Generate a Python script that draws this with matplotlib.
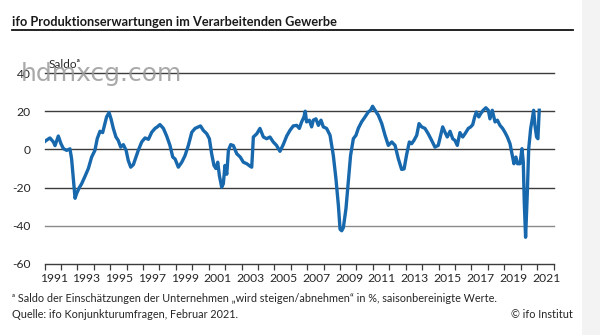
import matplotlib
matplotlib.use("Agg")
import matplotlib.pyplot as plt
from matplotlib.lines import Line2D
from matplotlib.patches import Rectangle

# ifo Produktionserwartungen, Saldo
years = [
    1991.00, 1991.10, 1991.33, 1991.54, 1991.64, 1991.84, 1992.00, 1992.15, 1992.35, 1992.55,
    1992.65, 1992.75, 1992.86, 1992.96, 1993.12, 1993.26, 1993.47, 1993.67, 1993.87, 1994.07,
    1994.21, 1994.38, 1994.54, 1994.68, 1994.78, 1994.93, 1995.05, 1995.19, 1995.35, 1995.49,
    1995.64, 1995.80, 1995.97, 1996.10, 1996.25, 1996.41, 1996.57, 1996.71, 1996.92, 1997.12,
    1997.33, 1997.53, 1997.73, 1997.87, 1998.03, 1998.24, 1998.44, 1998.64, 1998.81, 1998.95,
    1999.15, 1999.36, 1999.56, 1999.76, 1999.97, 2000.17, 2000.37, 2000.50, 2000.67, 2000.88,
    2001.04, 2001.18, 2001.32, 2001.44, 2001.55, 2001.65, 2001.79, 2001.89, 2001.99, 2002.10,
    2002.20, 2002.34, 2002.50, 2002.71, 2002.92, 2003.11, 2003.32, 2003.52, 2003.62, 2003.72,
    2003.93, 2004.12, 2004.33, 2004.53, 2004.73, 2004.93, 2005.13, 2005.34, 2005.54, 2005.75,
    2005.95, 2006.15, 2006.36, 2006.52, 2006.66, 2006.80, 2006.88, 2006.96, 2007.13, 2007.27,
    2007.37, 2007.53, 2007.68, 2007.84, 2007.98, 2008.18, 2008.39, 2008.59, 2008.75, 2008.90,
    2009.00, 2009.10, 2009.20, 2009.36, 2009.50, 2009.64, 2009.81, 2009.97, 2010.11, 2010.31,
    2010.52, 2010.72, 2010.86, 2010.98, 2011.13, 2011.33, 2011.54, 2011.74, 2011.94, 2012.15,
    2012.35, 2012.55, 2012.75, 2012.90, 2013.06, 2013.22, 2013.36, 2013.50, 2013.67, 2013.81,
    2013.97, 2014.17, 2014.37, 2014.58, 2014.78, 2014.98, 2015.13, 2015.25, 2015.39, 2015.53,
    2015.70, 2015.86, 2016.00, 2016.14, 2016.30, 2016.47, 2016.61, 2016.81, 2016.96, 2017.08,
    2017.20, 2017.30, 2017.45, 2017.57, 2017.72, 2017.88, 2018.03, 2018.13, 2018.27, 2018.44,
    2018.58, 2018.74, 2018.90, 2019.04, 2019.19, 2019.35, 2019.47, 2019.59, 2019.71, 2019.81,
    2019.96, 2020.08, 2020.16, 2020.22, 2020.30, 2020.40, 2020.49, 2020.61, 2020.71, 2020.79,
    2020.87, 2020.97, 2021.05, 2021.13,
]
saldo = [
    4.0, 4.7, 6.0, 3.9, 2.0, 7.0, 3.0, 0.4, -0.5, 0.3,
    -5.0, -15.0, -25.6, -23.0, -20.0, -18.0, -14.0, -10.0, -4.0, -0.5,
    5.6, 9.5, 8.8, 13.5, 17.0, 19.3, 16.0, 11.0, 6.5, 4.7,
    1.2, 2.5, -0.5, -5.8, -9.3, -8.0, -4.0, -0.5, 3.9, 6.0,
    5.3, 9.0, 11.0, 11.8, 13.0, 11.0, 7.0, 2.1, -4.0, -5.0,
    -9.3, -6.7, -3.2, 2.1, 9.0, 11.0, 11.8, 12.3, 10.0, 8.2,
    5.6, -2.3, -8.4, -10.0, -6.7, -13.7, -19.8, -18.0, -8.4, -13.0,
    -0.5, 2.5, 2.0, -2.3, -4.0, -6.7, -7.5, -8.8, -9.3, 6.5,
    8.2, 11.0, 6.5, 5.6, 6.5, 3.9, 2.1, -1.0, 2.5, 7.0,
    10.0, 12.3, 12.6, 11.0, 14.4, 17.0, 20.0, 14.4, 15.3, 11.8,
    15.3, 16.0, 12.6, 15.3, 11.8, 11.0, 7.4, -3.2, -15.4, -29.5,
    -41.8, -42.6, -41.0, -31.0, -17.0, -3.2, 5.6, 7.4, 11.0, 14.4,
    17.0, 19.6, 20.5, 22.6, 20.5, 17.9, 13.5, 7.4, 2.1, 3.9,
    2.1, -4.9, -10.5, -10.2, -2.5, 3.9, 3.0, 4.7, 7.4, 13.5,
    11.8, 11.0, 8.2, 4.7, 1.2, 2.1, 7.4, 11.8, 9.0, 6.5,
    9.5, 5.6, 4.7, 2.1, 8.8, 6.5, 8.2, 11.0, 11.8, 13.0,
    17.0, 19.6, 17.0, 18.8, 20.5, 21.8, 20.5, 16.0, 20.5, 14.4,
    15.3, 12.6, 11.0, 9.0, 6.5, 3.0, -2.3, -7.5, -4.0, -7.5,
    -7.5, 0.4, -6.7, -27.7, -46.0, -24.0, 0.4, 11.0, 16.0, 20.5,
    12.6, 6.5, 5.6, 20.5,
]

y_ticks = [-60, -40, -20, 0, 20, 40]
x_labels = list(range(1991, 2022, 2))

plt.rcParams['font.family'] = ['Lato', 'DejaVu Sans']
text_col = '#262626'

fig = plt.figure(figsize=(6.0, 3.35), dpi=100)
fig.patch.set_facecolor('white')
# light grey strip at the right edge of the screenshot
fig.patches.append(Rectangle((0.97, 0), 0.03, 1, transform=fig.transFigure,
                             facecolor='#f3f3f3', edgecolor='none', zorder=0))

ax = fig.add_axes([0.0742, 0.212, 0.8483, 0.570])
ax.set_xlim(1991, 2022)
ax.set_ylim(-60, 40)

# gridlines
for v in y_ticks[1:]:
    col = '#8a8a8a' if v == -40 else '#3c3c3c'
    ax.axhline(v, color=col, lw=1.0, zorder=1, clip_on=False)

ax.plot(years, saldo, color='#1768ad', lw=2.4, solid_joinstyle='round', zorder=3)

for s in ['top', 'right', 'left']:
    ax.spines[s].set_visible(False)
ax.spines['bottom'].set_color('#3c3c3c')
ax.spines['bottom'].set_linewidth(1.0)

ax.set_yticks(y_ticks)
ax.set_yticklabels([str(v) for v in y_ticks])
ax.tick_params(axis='y', length=0, pad=10, labelsize=8.7, labelcolor=text_col)

# year ticks at every year boundary, labels centred in the odd years
ax.set_xticks(range(1991, 2023))
ax.set_xticklabels([])
ax.tick_params(axis='x', length=4, width=0.9, color='#3c3c3c', direction='out')
for yr in x_labels:
    ax.text(yr + 0.55, -64.5, str(yr), ha='center', va='top', fontsize=8.7, color=text_col)

ax.text(1991.25, 41.5, 'Saldo\u1d43', ha='left', va='bottom', fontsize=8.5, color=text_col)

# title and rule
fig.text(0.02, 0.935, 'ifo Produktionserwartungen im Verarbeitenden Gewerbe',
         ha='left', va='center', fontsize=9.2, fontweight='bold', color='#1a1a1a')
fig.add_artist(Line2D([0.02, 0.955], [0.909, 0.909], transform=fig.transFigure,
                      color='#111111', lw=1.3))

# footnotes
fig.text(0.02, 0.11, '\u1d43 Saldo der Einschätzungen der Unternehmen \u201ewird steigen/abnehmen\u201c in %, saisonbereinigte Werte.',
         ha='left', va='center', fontsize=7.8, color=text_col)
fig.text(0.02, 0.06, 'Quelle: ifo Konjunkturumfragen, Februar 2021.',
         ha='left', va='center', fontsize=7.8, color=text_col)
fig.text(0.955, 0.06, '\u00a9 ifo Institut', ha='right', va='center', fontsize=7.8, color=text_col)

# watermark overlay
fig.text(0.035, 0.78, 'hdmxcg.com', ha='left', va='center', fontsize=18,
         color='#9a9a9a', alpha=0.85, family='DejaVu Sans', zorder=10)

fig.savefig('out.png', dpi=100)
